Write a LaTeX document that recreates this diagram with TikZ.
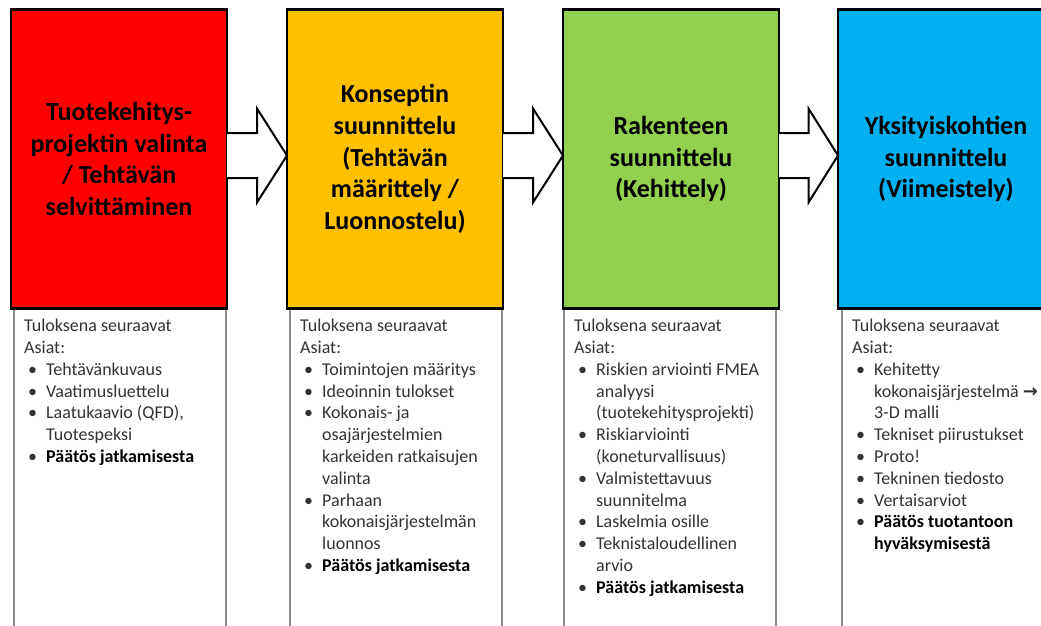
\documentclass[tikz,border=0pt]{standalone}
\usepackage{fontspec}
\setmainfont{Carlito}
\newfontfamily\arrowfont{DejaVu Sans}
\usetikzlibrary{calc, positioning, backgrounds}
\definecolor{phasered}{HTML}{FF0000}
\definecolor{phaseyellow}{HTML}{FFC000}
\definecolor{phasegreen}{HTML}{92D050}
\definecolor{phaseblue}{HTML}{00B0F0}
\newcommand{\bul}{\makebox[22pt][l]{\hspace{4pt}\textbullet}}
\newcommand{\ind}{\hspace*{22pt}}
\newcommand{\paat}[1]{\textcolor{black}{\textbf{#1}}}
\newcommand{\blockarrow}[2]{%
\draw[blockarr] ($(#1.east)+(0,26)$) -- ($(#1.east)!.5!(#2.west)+(0,26)$)
  -- ($(#1.east)!.5!(#2.west)+(0,50.5)$) -- ($(#2.west)+(0,3.5)$)
  -- ($(#1.east)!.5!(#2.west)+(0,-43.5)$) -- ($(#1.east)!.5!(#2.west)+(0,-19)$)
  -- ($(#1.east)+(0,-19)$);}

\begin{document}
\begin{tikzpicture}[x=1pt, y=1pt,
  phase/.style={rectangle, draw=black, line width=2.5pt, outer sep=0pt,
    minimum width=216pt, minimum height=299pt, align=center,
    font=\bfseries\fontsize{26}{31.6}\selectfont},
  resbox/.style={rectangle, draw=black!45, line width=1.5pt, outer sep=0pt,
    minimum width=212pt, minimum height=330pt, anchor=north},
  restext/.style={anchor=north west, align=left, inner xsep=10pt, inner ysep=10.5pt,
    text=black!80, font=\fontsize{18}{21.8}\selectfont},
  blockarr/.style={draw=black, fill=white, line width=2pt, line join=miter}]
\useasboundingbox (0,0) rectangle (1041,-625);
\clip (0,0) rectangle (1041,-625);

\node[phase, fill=phasered] (p1) at (119,-159) {Tuotekehitys-\\projektin valinta\\/ Tehtävän\\selvittäminen};
\node[phase, fill=phaseyellow, right=60pt of p1] (p2) {Konseptin\\suunnittelu\\(Tehtävän\\määrittely /\\Luonnostelu)};
\node[phase, fill=phasegreen, right=60pt of p2] (p3) {Rakenteen\\suunnittelu\\(Kehittely)};
\node[phase, fill=phaseblue, right=59pt of p3] (p4) {Yksityiskohtien\\suunnittelu\\(Viimeistely)};

\begin{scope}[on background layer]
\node[resbox, xshift=1pt] (r1) at (p1.south) {};
\node[resbox, xshift=1pt] (r2) at (p2.south) {};
\node[resbox, xshift=-1pt] (r3) at (p3.south) {};
\node[resbox, xshift=2pt] (r4) at (p4.south) {};
\end{scope}

\blockarrow{p1}{p2}
\blockarrow{p2}{p3}
\blockarrow{p3}{p4}

\node[restext] (t1) at (r1.north west) {Tuloksena seuraavat\\Asiat:\\\bul Tehtävänkuvaus\\\bul Vaatimusluettelu\\\bul Laatukaavio (QFD),\\\ind Tuotespeksi\\\bul \paat{Päätös jatkamisesta}};
\node[restext] (t2) at (r2.north west) {Tuloksena seuraavat\\Asiat:\\\bul Toimintojen määritys\\\bul Ideoinnin tulokset\\\bul Kokonais- ja\\\ind osajärjestelmien\\\ind karkeiden ratkaisujen\\\ind valinta\\\bul Parhaan\\\ind kokonaisjärjestelmän\\\ind luonnos\\\bul \paat{Päätös jatkamisesta}};
\node[restext] (t3) at (r3.north west) {Tuloksena seuraavat\\Asiat:\\\bul Riskien arviointi FMEA\\\ind analyysi\\\ind (tuotekehitysprojekti)\\\bul Riskiarviointi\\\ind (koneturvallisuus)\\\bul Valmistettavuus\\\ind suunnitelma\\\bul Laskelmia osille\\\bul Teknistaloudellinen\\\ind arvio\\\bul \paat{Päätös jatkamisesta}};
\node[restext] (t4) at (r4.north west) {Tuloksena seuraavat\\Asiat:\\\bul Kehitetty\\\ind kokonaisjärjestelmä {\arrowfont\bfseries →}\\\ind 3-D malli\\\bul Tekniset piirustukset\\\bul Proto!\\\bul Tekninen tiedosto\\\bul Vertaisarviot\\\bul \paat{Päätös tuotantoon}\\\ind \paat{hyväksymisestä}};
\end{tikzpicture}
\end{document}
